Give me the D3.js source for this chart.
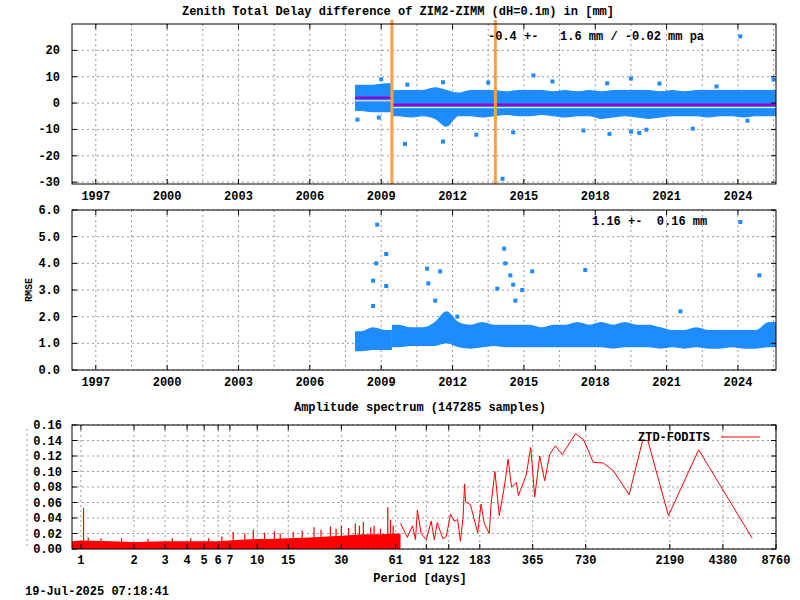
<!DOCTYPE html>
<html><head><meta charset="utf-8">
<script src="https://cdn.jsdelivr.net/npm/d3@7"></script>
<style>
body{margin:0;background:#fff}
text{font-family:"Liberation Mono","DejaVu Sans Mono",monospace;font-weight:bold;font-size:12px;fill:#000}
</style></head><body>
<script>
"use strict";

// ZTD difference, half-year bins (start year, cloud top, cloud bottom)
const ztdBinStart = [2007.9,2008.4,2008.9,2009.45,2010.0,2010.5,2011.0,2011.5,2012.0,2012.5,2013.0,2013.5,2014.0,2014.5,2015.0,2015.5,2016.0,2016.5,2017.0,2017.5,2018.0,2018.5,2019.0,2019.5,2020.0,2020.5,2021.0,2021.5,2022.0,2022.5,2023.0,2023.5,2024.0,2024.5,2025.0];
const ztdHi = [7,7,7.5,5,5,5,6,5,4,5,5,5,4.5,5,5,5,4.5,5,4.5,5,4.5,5,5,5,5,4.5,5,4.5,5,5,5,5,5,5,5];
const ztdLo = [-3,-3.5,-3.5,-5,-5.5,-5,-6,-9,-5,-5,-5.5,-5,-4.5,-5,-5,-4.5,-5,-5.5,-5,-5,-6,-5.5,-5,-5.5,-6,-5.5,-5,-5,-5,-5.5,-5,-5,-5.5,-5,-5];
const ztdEnd = 2025.6;
const ztdOutYear = [2024.1,2015.4,2011.6,2010.1,2013.5,2016.2,2019.5,2018.5,2020.7,2025.5,2014.1,2010.0,2011.6,2018.6,2013.0,2014.55,2017.5,2019.5,2019.85,2020.15,2022.1,2024.4,2023.1,2009.0,2008.0,2008.9];
const ztdOutVal = [25.3,10.5,7.9,7,7.8,8.2,9.3,7.5,7.4,8.9,-28.7,-15.5,-14.6,-11.7,-12,-11.1,-10.4,-10.8,-11.3,-10.1,-9.7,-6.7,6.3,9,-6.3,-5.5];
const meanStart = [2007.9, 2009.45];
const meanEnd = [2009.45, 2025.6];
const meanVal = [2.0, -0.6];
const breakYears = [2009.45, 2013.8];

// RMSE
const rmseHi = [1.45,1.6,1.5,1.7,1.6,1.6,1.8,2.2,1.8,1.7,1.8,1.7,1.7,1.7,1.7,1.6,1.7,1.7,1.8,1.7,1.8,1.7,1.8,1.7,1.7,1.6,1.5,1.5,1.6,1.5,1.5,1.5,1.5,1.5,1.8];
const rmseLo = [0.7,0.75,0.75,0.85,0.9,0.9,0.9,1.0,0.85,0.8,0.85,0.9,0.85,0.85,0.85,0.85,0.85,0.85,0.85,0.85,0.85,0.8,0.85,0.85,0.85,0.8,0.85,0.8,0.85,0.8,0.8,0.85,0.8,0.8,0.85];
const rmseOutYear = [2008.83,2008.79,2008.66,2008.66,2009.21,2009.21,2010.93,2011.48,2010.98,2011.27,2012.2,2014.17,2014.22,2014.43,2014.55,2014.64,2014.93,2015.35,2013.88,2024.1,2024.9,2017.58,2021.58];
const rmseOutVal = [5.45,4.0,3.35,2.4,4.35,3.15,3.8,3.7,3.25,2.6,2.0,4.55,4.0,3.55,3.2,2.6,3.0,3.7,3.05,5.55,3.55,3.75,2.2];

const yearTicks = [1997,2000,2003,2006,2009,2012,2015,2018,2021,2024];

// Amplitude spectrum: dense short-period part (solid floor + spikes) and long-period line
const specLowP = [0.89,1,1.5,2,3,4,5,6,7,8,10,12,15,20,25,30,40,50,60,65];
const specLowA = [.010,.011,.010,.009,.010,.010,.010,.010,.011,.012,.013,.013,.014,.015,.016,.017,.019,.019,.020,.020];
const spikeP = [1.035,1.1,1.3,1.7,2.4,3.3,4.2,5.3,6.3,7.3,8.5,9.5,11,12.5,13.5,16,18,21,23,26,28,30,33,36,38,40,44,46,50,55,57,59];
const spikeA = [.053,.015,.014,.014,.013,.014,.014,.014,.016,.022,.020,.025,.021,.023,.020,.022,.024,.028,.025,.029,.026,.030,.027,.033,.030,.035,.028,.030,.026,.054,.038,.030];
const specP = [65,71,76,79,81,85,91,97,101,105,113,118,125,131,137,142,147,150,152,162,178,186,194,207,212,223,236,252,265,277,295,303,335,356,375,400,427,456,491,537,640,714,804,917,1047,1287,1534,1643,2150,3190,6420];
const specA = [.033,.015,.030,.012,.050,.020,.012,.036,.012,.034,.013,.016,.045,.036,.038,.010,.040,.084,.061,.057,.021,.058,.033,.020,.058,.100,.043,.080,.116,.080,.086,.069,.095,.131,.067,.120,.088,.122,.133,.122,.149,.140,.112,.111,.101,.070,.140,.140,.043,.128,.014];
const periodTicks = [1,2,3,4,5,6,7,10,15,30,61,91,122,183,365,730,2190,4380,8760];
const ampTicks = [0,0.02,0.04,0.06,0.08,0.10,0.12,0.14,0.16];

const blue = "#1e8cff";
const svg = d3.select("body").append("svg").attr("width", 800).attr("height", 600);

const L = 72, R = 776;
const x = d3.scaleLinear().domain([1996.0, 2025.6]).range([L, R]);

const grid = (g, xs, ys, x0, x1, y0, y1) => {
    g.selectAll(".gx").data(xs).enter().append("line")
        .attr("x1", d => d).attr("x2", d => d).attr("y1", y0).attr("y2", y1)
        .attr("stroke", "#999").attr("stroke-dasharray", "2,3");
    g.selectAll(".gy").data(ys).enter().append("line")
        .attr("x1", x0).attr("x2", x1).attr("y1", d => d).attr("y2", d => d)
        .attr("stroke", "#999").attr("stroke-dasharray", "2,3");
};

const frame = (y0, y1, x0 = L, x1 = R) => svg.append("rect")
    .attr("x", x0).attr("y", y0).attr("width", x1 - x0).attr("height", y1 - y0)
    .attr("fill", "none").attr("stroke", "#000");

const tickMarks = (xs, ys, x0, x1, y0, y1) => {
    const g = svg.append("g").attr("stroke", "#000");
    xs.forEach(v => { g.append("line").attr("x1", v).attr("x2", v).attr("y1", y1).attr("y2", y1 - 5);
                      g.append("line").attr("x1", v).attr("x2", v).attr("y1", y0).attr("y2", y0 + 5); });
    ys.forEach(v => { g.append("line").attr("x1", x0).attr("x2", x0 + 5).attr("y1", v).attr("y2", v);
                      g.append("line").attr("x1", x1).attr("x2", x1 - 5).attr("y1", v).attr("y2", v); });
};

// half-step grid for year panels
const yearGrid = d3.range(1997, 2026, 1.5).map(x);

// band drawn through bin midpoints, split at the first break
const binEnd = i => i + 1 < ztdBinStart.length ? ztdBinStart[i + 1] : ztdEnd;
const bandPts = (hi, lo) => ztdBinStart.map((d, i) => ({ t: (d + binEnd(i)) / 2, hi: hi[i], lo: lo[i], a: d, b: binEnd(i) }));
const drawBand = (hi, lo, y) => {
    const pts = bandPts(hi, lo);
    const segs = [pts.filter(p => p.a < breakYears[0]), pts.filter(p => p.a >= breakYears[0])];
    segs.forEach(s => {
        const full = [{ ...s[0], t: s[0].a }, ...s, { ...s[s.length - 1], t: s[s.length - 1].b }];
        svg.append("path").datum(full)
            .attr("d", d3.area().x(p => x(p.t)).y0(p => y(p.lo)).y1(p => y(p.hi)).curve(d3.curveMonotoneX))
            .attr("fill", blue);
    });
};

/***************
 * Top panel   *
 ***************/
const T0 = 24, T1 = 184;
const yTop = d3.scaleLinear().domain([-30.7, 30]).range([T1, T0]);
const topTicks = [-30, -20, -10, 0, 10, 20];
grid(svg.append("g"), yearGrid, topTicks.map(yTop), L, R, T0, T1);

drawBand(ztdHi, ztdLo, yTop);
svg.append("g").selectAll("rect").data(ztdOutYear).enter().append("rect")
    .attr("x", d => x(d) - 2).attr("y", (d, i) => yTop(ztdOutVal[i]) - 2)
    .attr("width", 4).attr("height", 4).attr("fill", blue);
svg.append("g").selectAll("line").data(meanStart).enter().append("line")
    .attr("x1", d => x(d)).attr("x2", (d, i) => x(meanEnd[i]))
    .attr("y1", (d, i) => yTop(meanVal[i]) + 3).attr("y2", (d, i) => yTop(meanVal[i]) + 3)
    .attr("stroke", "#fff").attr("stroke-width", 1);
svg.append("g").selectAll("line").data(meanStart).enter().append("line")
    .attr("x1", d => x(d)).attr("x2", (d, i) => x(meanEnd[i]))
    .attr("y1", (d, i) => yTop(meanVal[i])).attr("y2", (d, i) => yTop(meanVal[i]))
    .attr("stroke", "#9a00d0").attr("stroke-width", 2.5);
svg.append("g").selectAll("line").data(breakYears).enter().append("line")
    .attr("x1", d => x(d)).attr("x2", d => x(d)).attr("y1", T0 - 4).attr("y2", T1)
    .attr("stroke", "#ff9f40").attr("stroke-width", 3);
frame(T0, T1);
tickMarks(yearTicks.map(x), topTicks.map(yTop), L, R, T0, T1);
svg.append("g").selectAll("text").data(topTicks).enter().append("text")
    .attr("x", 60).attr("y", d => yTop(d) + 4).attr("text-anchor", "end").text(d => d);
svg.append("g").selectAll("text").data(yearTicks).enter().append("text")
    .attr("x", d => x(d)).attr("y", 200).attr("text-anchor", "middle").text(d => d);
svg.append("text").attr("x", 398).attr("y", 15).attr("text-anchor", "middle")
    .text("Zenith Total Delay difference of ZIM2-ZIMM (dH=0.1m) in [mm]");
svg.append("text").attr("x", 488).attr("y", 40).attr("xml:space", "preserve")
    .text("-0.4 +-   1.6 mm / -0.02 mm pa");

/***************
 * RMSE panel  *
 ***************/
const M0 = 210, M1 = 370;
const yMid = d3.scaleLinear().domain([0, 6]).range([M1, M0]);
const midTicks = [0, 1, 2, 3, 4, 5, 6];
grid(svg.append("g"), yearGrid, midTicks.map(yMid), L, R, M0, M1);
drawBand(rmseHi, rmseLo, yMid);
svg.append("g").selectAll("rect").data(rmseOutYear).enter().append("rect")
    .attr("x", d => x(d) - 2).attr("y", (d, i) => yMid(rmseOutVal[i]) - 2)
    .attr("width", 4).attr("height", 4).attr("fill", blue);
frame(M0, M1);
tickMarks(yearTicks.map(x), midTicks.map(yMid), L, R, M0, M1);
svg.append("g").selectAll("text").data(midTicks).enter().append("text")
    .attr("x", 60).attr("y", d => yMid(d) + 4).attr("text-anchor", "end").text(d => d.toFixed(1));
svg.append("g").selectAll("text").data(yearTicks).enter().append("text")
    .attr("x", d => x(d)).attr("y", 386).attr("text-anchor", "middle").text(d => d);
svg.append("text").attr("transform", "translate(32,290) rotate(-90)").attr("text-anchor", "middle")
    .style("font-size", "10px").text("RMSE");
svg.append("text").attr("x", 592).attr("y", 225).attr("xml:space", "preserve").text("1.16 +-  0.16 mm");

/*******************
 * Spectrum panel  *
 *******************/
const B0 = 425, B1 = 549;
const xs = d3.scaleLog().base(2).domain([0.89, 8760]).range([L, R]);
const ya = d3.scaleLinear().domain([0, 0.16]).range([B1, B0]);
grid(svg.append("g"), periodTicks.map(xs), ampTicks.map(ya), L, R, B0, B1);

svg.append("path").datum(specLowP)
    .attr("d", d3.area().x(d => xs(d)).y0(B1).y1((d, i) => ya(specLowA[i])))
    .attr("fill", "#f00");
svg.append("g").selectAll("line").data(spikeP).enter().append("line")
    .attr("x1", d => xs(d)).attr("x2", d => xs(d)).attr("y1", B1).attr("y2", (d, i) => ya(spikeA[i]))
    .attr("stroke", "#f00").attr("stroke-width", 1.2);
svg.append("path").datum(specP)
    .attr("d", d3.line().x(d => xs(d)).y((d, i) => ya(specA[i])))
    .attr("fill", "none").attr("stroke", "#f00").attr("stroke-width", 1);
frame(B0, B1);
tickMarks(periodTicks.map(xs), ampTicks.map(ya), L, R, B0, B1);
svg.append("line").attr("x1", 27).attr("x2", 27).attr("y1", B0 + 4).attr("y2", B1)
    .attr("stroke", "#999").attr("stroke-dasharray", "2,3");
svg.append("g").selectAll("text").data(ampTicks).enter().append("text")
    .attr("x", 62).attr("y", d => ya(d) + 4).attr("text-anchor", "end").text(d => d.toFixed(2));
svg.append("g").selectAll("text").data(periodTicks).enter().append("text")
    .attr("x", d => xs(d)).attr("y", 564).attr("text-anchor", "middle").text(d => d);
svg.append("text").attr("x", 420).attr("y", 411).attr("text-anchor", "middle")
    .text("Amplitude spectrum (147285 samples)");
svg.append("text").attr("x", 420).attr("y", 582).attr("text-anchor", "middle").text("Period [days]");
svg.append("text").attr("x", 710).attr("y", 441).attr("text-anchor", "end").text("ZTD-FODITS");
svg.append("line").attr("x1", 721).attr("x2", 760).attr("y1", 437).attr("y2", 437).attr("stroke", "#f00");
svg.append("text").attr("x", 25).attr("y", 595).text("19-Jul-2025 07:18:41");
</script>
</body></html>
